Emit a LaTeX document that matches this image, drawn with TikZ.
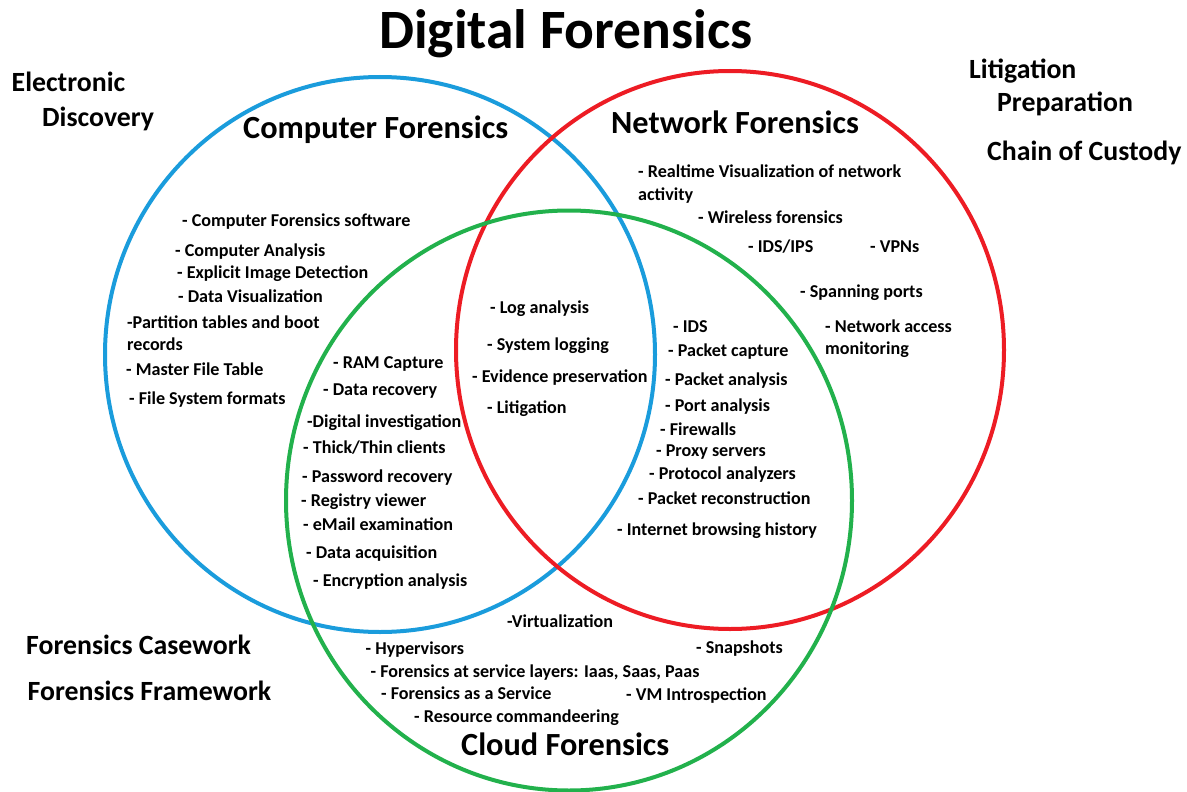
\documentclass[tikz,border=0pt]{standalone}
\usepackage{fontspec}
\setmainfont{Carlito}
\definecolor{cfblue}{HTML}{1A9CDC}
\definecolor{nfred}{HTML}{ED1C24}
\definecolor{clgreen}{HTML}{22B14C}
\tikzset{
  ring/.style={line width=4pt},
  item/.style={anchor=base west, inner sep=0pt, font=\fontsize{18.1}{20}\selectfont\bfseries},
  side/.style={anchor=base west, inner sep=0pt, font=\fontsize{27.8}{30}\selectfont\bfseries},
  head/.style={anchor=base west, inner sep=0pt, font=\fontsize{32.3}{36}\selectfont\bfseries},
  titletext/.style={anchor=base west, inner sep=0pt, font=\fontsize{55.5}{60}\selectfont\bfseries}
}
\begin{document}
\begin{tikzpicture}[x=1pt,y=-1pt]
\useasboundingbox[fill=white] (0,0) rectangle (1187,792);
% circles
\draw[ring, cfblue] (380,354.5) ellipse [x radius=275, y radius=277.5];
\draw[ring, nfred] (730,350) ellipse [x radius=274, y radius=279];
\draw[ring, clgreen] (569,500.5) ellipse [x radius=283, y radius=290];
% title
\node[titletext] (title) at (379,49) {Digital Forensics};
% side labels
\node[side] (ed1) at (11.5,92) {Electronic};
\node[side] (ed2) at (42,126) {Discovery};
\node[side] (lp1) at (969,78) {Litigation};
\node[side] (lp2) at (997,112) {Preparation};
\node[side] (coc) at (987,160) {Chain of Custody};
\node[side] (fc) at (26,654) {Forensics Casework};
\node[side] (ff) at (27.5,700) {Forensics Framework};
% headings
\node[head] (cfh) at (243,138) {Computer Forensics};
\node[head] (nfh) at (611,133) {Network Forensics};
\node[head] (clh) at (461,755) {Cloud Forensics};
% computer only
\node[item] (c1) at (182,226) {- Computer Forensics software};
\node[item] (c2) at (175,256) {- Computer Analysis};
\node[item] (c3) at (177,278) {- Explicit Image Detection};
\node[item] (c4) at (178,302) {- Data Visualization};
\node[item] (c5) at (127,328) {-Partition tables and boot};
\node[item] (c6) at (127,350) {records};
\node[item] (c7) at (126,375) {- Master File Table};
\node[item] (c8) at (129,404) {- File System formats};
% computer & cloud
\node[item] (g1) at (333,368) {- RAM Capture};
\node[item] (g2) at (323,395) {- Data recovery};
\node[item] (g3) at (307,427) {-Digital investigation};
\node[item] (g4) at (303,453) {- Thick/Thin clients};
\node[item] (g5) at (302,482) {- Password recovery};
\node[item] (g6) at (301,506) {- Registry viewer};
\node[item] (g7) at (303,530) {- eMail examination};
\node[item] (g8) at (306,558) {- Data acquisition};
\node[item] (g9) at (313,586) {- Encryption analysis};
% centre
\node[item] (m1) at (490,313) {- Log analysis};
\node[item] (m2) at (487,350) {- System logging};
\node[item] (m3) at (472,382) {- Evidence preservation};
\node[item] (m4) at (487,413) {- Litigation};
% network & cloud
\node[item] (r1) at (673,332) {- IDS};
\node[item] (r2) at (668,356) {- Packet capture};
\node[item] (r3) at (665,385) {- Packet analysis};
\node[item] (r4) at (665,411) {- Port analysis};
\node[item] (r5) at (660,435) {- Firewalls};
\node[item] (r6) at (656,456) {- Proxy servers};
\node[item] (r7) at (649,479) {- Protocol analyzers};
\node[item] (r8) at (638,504) {- Packet reconstruction};
\node[item] (r9) at (617,535) {- Internet browsing history};
% network only
\node[item] (n1) at (638,177) {- Realtime Visualization of network};
\node[item] (n2) at (638,200) {activity};
\node[item] (n3) at (698,223) {- Wireless forensics};
\node[item] (n4) at (748,252) {- IDS/IPS};
\node[item] (n5) at (870,252) {- VPNs};
\node[item] (n6) at (800,297) {- Spanning ports};
\node[item] (n7) at (825,332) {- Network access};
\node[item] (n8) at (825,354) {monitoring};
% cloud only
\node[item] (k1) at (507,627) {-Virtualization};
\node[item] (k2) at (365.5,654) {- Hypervisors};
\node[item] (k3) at (370.5,677) {- Forensics at service layers: Iaas, Saas, Paas};
\node[item] (k4) at (381,699) {- Forensics as a Service};
\node[item] (k5) at (414,722) {- Resource commandeering};
\node[item] (k6) at (696,653) {- Snapshots};
\node[item] (k7) at (626,700) {- VM Introspection};
\end{tikzpicture}
\end{document}
